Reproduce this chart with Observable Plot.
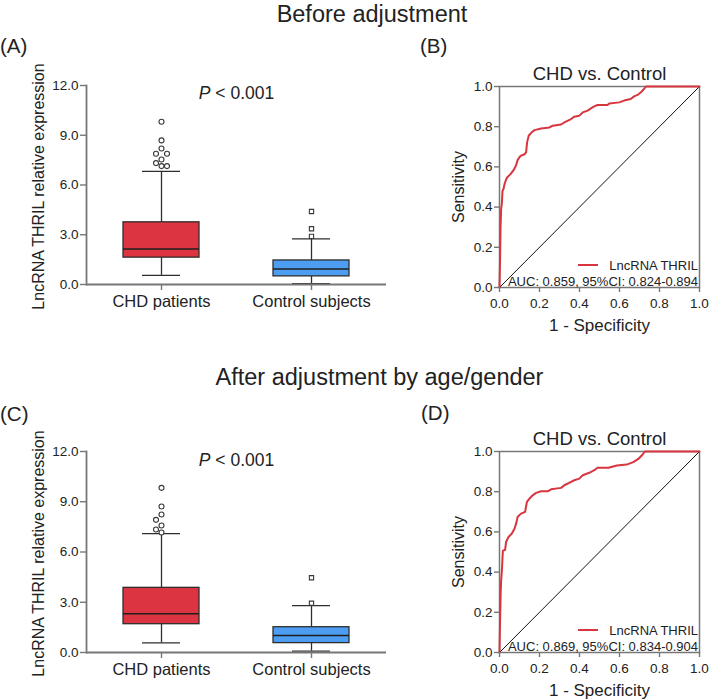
<!DOCTYPE html>
<html><head><meta charset="utf-8">
<script src="https://cdn.jsdelivr.net/npm/d3@7"></script>
<script src="https://cdn.jsdelivr.net/npm/@observablehq/plot@0.6"></script>
<style>
body{margin:0;background:#fff;}
#fig{position:relative;width:709px;height:700px;overflow:hidden;font-family:"Liberation Sans",Arial,Helvetica,sans-serif;}
#fig > svg{position:absolute;}
</style></head><body><div id="fig"></div>
<script>
const FONT = '"Liberation Sans", Arial, Helvetica, sans-serif';
const groups = ["CHD patients", "Control subjects"];
const boxColors = ["#dc3441", "#4d9df2"];
const boxTicks = [0, 3, 6, 9, 12];
// [lower whisker, Q1, median, Q3, upper whisker]
const beforeCHD = [0.55, 1.62, 2.14, 3.75, 6.82];
const beforeControl = [0.05, 0.49, 0.93, 1.45, 2.75];
const beforeOutCHD = [9.81, 8.69, 8.2, 7.88, 7.88, 7.54, 7.32, 7.14, 7.14];
const beforeOutControl = [4.4, 3.36, 2.9];
const afterCHD = [0.58, 1.69, 2.31, 3.86, 7.1];
const afterControl = [0.08, 0.56, 1.01, 1.51, 2.8];
const afterOutCHD = [9.83, 8.72, 8.24, 7.92, 7.58, 7.34, 7.16];
const afterOutControl = [4.46, 2.94];

const rocTicks = [0, 0.2, 0.4, 0.6, 0.8, 1];
const beforeFPR = [0,0.003,0.005,0.008,0.012,0.015,0.02,0.025,0.032,0.038,0.055,0.071,0.083,0.091,0.105,0.125,0.133,0.138,0.146,0.161,0.175,0.208,0.249,0.266,0.308,0.324,0.358,0.374,0.399,0.416,0.441,0.457,0.474,0.49,0.54,0.549,0.599,0.623,0.656,0.673,0.69,0.707,0.72,0.732,1];
const beforeTPR = [0,0.15,0.29,0.39,0.42,0.48,0.49,0.514,0.535,0.547,0.564,0.585,0.608,0.635,0.655,0.663,0.672,0.722,0.755,0.772,0.783,0.791,0.796,0.805,0.811,0.821,0.838,0.85,0.855,0.871,0.88,0.891,0.901,0.908,0.908,0.916,0.921,0.93,0.938,0.951,0.958,0.971,0.985,1,1];
const afterFPR = [0,0.003,0.006,0.008,0.012,0.015,0.017,0.028,0.033,0.045,0.061,0.075,0.083,0.091,0.108,0.128,0.137,0.15,0.166,0.183,0.208,0.241,0.258,0.308,0.324,0.358,0.374,0.399,0.416,0.449,0.474,0.49,0.545,0.587,0.636,0.669,0.694,0.711,0.727,1];
const afterTPR = [0,0.168,0.3,0.357,0.407,0.47,0.507,0.51,0.55,0.575,0.591,0.616,0.641,0.675,0.691,0.7,0.749,0.766,0.782,0.794,0.802,0.802,0.812,0.819,0.832,0.849,0.857,0.865,0.882,0.894,0.907,0.919,0.919,0.93,0.935,0.947,0.963,0.98,1,1];

const rocTitle = "CHD vs. Control";
const rocSeries = "LncRNA THRIL";
const beforeAUC = "AUC: 0.859, 95%CI: 0.824-0.894";
const afterAUC = "AUC: 0.869, 95%CI: 0.834-0.904";
const yLabelBox = "LncRNA THRIL relative expression";
const xLabelRoc = "1 - Specificity";
const yLabelRoc = "Sensitivity";

const fig = document.getElementById("fig");
function place(node, left, top) {
  node.style.position = "absolute"; node.style.left = left + "px"; node.style.top = top + "px";
  fig.appendChild(node);
}

function boxPanel(s5, outs, frameH) {
  const stats = groups.map((g, i) => ({group: g, lo: s5[i][0], q1: s5[i][1], med: s5[i][2], q3: s5[i][3], hi: s5[i][4], fill: boxColors[i]}));
  const minGap = 6.5 / (frameH / 12);
  const outliers = [];
  groups.forEach((g, gi) => {
    const placed = [];
    outs[gi].forEach(v => {
      const side = [0, -1, 1, -2, 2].find(s => placed.every(p => p.side !== s || Math.abs(p.value - v) >= minGap));
      placed.push({value: v, side});
      outliers.push({group: g, gi, value: v, side});
    });
  });
  const dots = [];
  groups.forEach((g, gi) => [-2, -1, 0, 1, 2].forEach(s => {
    dots.push(Plot.dot(outliers, {filter: d => d.gi === gi && d.side === s, x: "group", y: "value",
      symbol: gi === 0 ? "circle" : "square", r: gi === 0 ? 2.5 : 2.4, dx: s * 5.5,
      stroke: "#3a3a3a", strokeWidth: 1.1, fill: "white"}));
  }));
  const ln = {stroke: "#2e2e2e", strokeWidth: 1.3};
  return Plot.plot({
    width: 390, height: 30 + frameH + 36,
    marginLeft: 86, marginRight: 4, marginTop: 30, marginBottom: 36,
    style: {background: "transparent", fontFamily: FONT, overflow: "visible", color: "#222"},
    x: {domain: groups, padding: 0, label: null},
    y: {domain: [0, 12], label: null},
    color: {type: "identity"},
    marks: [
      Plot.ruleX(stats, {x: "group", y1: "q3", y2: "hi", ...ln}),
      Plot.ruleX(stats, {x: "group", y1: "lo", y2: "q1", ...ln}),
      Plot.tickY(stats, {x: "group", y: "hi", insetLeft: 56, insetRight: 56, ...ln}),
      Plot.tickY(stats, {x: "group", y: "lo", insetLeft: 56, insetRight: 56, ...ln}),
      Plot.barY(stats, {x: "group", y1: "q1", y2: "q3", fill: "fill", insetLeft: 37, insetRight: 37, ...ln}),
      Plot.tickY(stats, {x: "group", y: "med", insetLeft: 37, insetRight: 37, stroke: "#1e1e1e", strokeWidth: 1.5}),
      ...dots,
      Plot.ruleY([0], {stroke: "#777", strokeWidth: 1.8}),
      Plot.frame({anchor: "left", stroke: "#777", strokeWidth: 1.8}),
      Plot.axisY(boxTicks, {tickSize: 6, tickPadding: 2, tickFormat: d => d.toFixed(1), fontSize: 13.5, stroke: "#777", strokeWidth: 1.4, fill: "#222", label: null}),
      Plot.axisX({tickSize: 6, tickPadding: 5, fontSize: 16.5, stroke: "#777", strokeWidth: 1.4, fill: "#222", label: null}),
      Plot.text([yLabelBox], {frameAnchor: "left", textAnchor: "middle", rotate: -90, lineAnchor: "bottom", dx: -42.5, dy: 1.5, fontSize: 16, fill: "#222"})
    ]
  });
}

function rocPanel(fpr, tpr, auc, frameH, marginBottom) {
  const pts = fpr.map((x, i) => ({fpr: x, tpr: tpr[i]}));
  const unit = d3.extent(rocTicks);
  return Plot.plot({
    width: 269, height: 26 + frameH + marginBottom,
    marginLeft: 59, marginRight: 10, marginTop: 26, marginBottom,
    style: {background: "transparent", fontFamily: FONT, overflow: "visible", color: "#222"},
    x: {domain: unit, label: null},
    y: {domain: unit, label: null},
    marks: [
      Plot.frame({stroke: "#777", strokeWidth: 1.5}),
      Plot.line(unit, {x: d => d, y: d => d, stroke: "#111", strokeWidth: 1}),
      Plot.line(pts, {x: "fpr", y: "tpr", stroke: "#d8363f", strokeWidth: 2}),
      Plot.axisY(rocTicks, {tickSize: 5, tickPadding: 2, tickFormat: d => d.toFixed(1), fontSize: 13.5, stroke: "#777", strokeWidth: 1.4, fill: "#222", label: null}),
      Plot.axisX(rocTicks, {tickSize: 5, tickPadding: 6, tickFormat: d => d.toFixed(1), fontSize: 13.5, stroke: "#777", strokeWidth: 1.4, fill: "#222", label: null}),
      Plot.text([rocTitle], {frameAnchor: "top", lineAnchor: "bottom", dy: -6.5, fontSize: 18.5, fill: "#222"}),
      Plot.text([xLabelRoc], {frameAnchor: "bottom", lineAnchor: "bottom", dy: 43, fontSize: 17, fill: "#222"}),
      Plot.text([yLabelRoc], {frameAnchor: "left", textAnchor: "middle", rotate: -90, lineAnchor: "bottom", dx: -36, fontSize: 16, fill: "#222"}),
      Plot.text([rocSeries], {frameAnchor: "bottom-right", textAnchor: "end", lineAnchor: "bottom", dx: -1.5, dy: -17.5, fontSize: 13, fill: "#222"}),
      Plot.text([auc], {frameAnchor: "bottom-right", textAnchor: "end", lineAnchor: "bottom", dx: -1.5, dy: -1.5, fontSize: 13, fill: "#222"})
    ]
  });
}

place(boxPanel([beforeCHD, beforeControl], [beforeOutCHD, beforeOutControl], 199), 0, 55);
place(rocPanel(beforeFPR, beforeTPR, beforeAUC, 201, 53), 440, 60);
place(boxPanel([afterCHD, afterControl], [afterOutCHD, afterOutControl], 201), 0, 421);
place(rocPanel(afterFPR, afterTPR, afterAUC, 201, 48), 440, 425);

// annotation overlay: headings, panel letters, P values, legend swatches
const ov = d3.select(fig).append("svg").attr("width", 709).attr("height", 700)
  .style("left", "0px").style("top", "0px").style("pointer-events", "none")
  .attr("font-family", FONT).attr("fill", "#222");
const headings = [["Before adjustment", 372, 21.5], ["After adjustment by age/gender", 379.5, 385]];
headings.forEach(([t, x, y]) => ov.append("text").attr("x", x).attr("y", y).attr("text-anchor", "middle").attr("font-size", 23.5).text(t));
const letters = [["(A)", 0, 53], ["(B)", 420, 53], ["(C)", 0, 420.5], ["(D)", 421, 420]];
letters.forEach(([t, x, y]) => ov.append("text").attr("x", x).attr("y", y).attr("font-size", 20.5).text(t));
[99.3, 466].forEach(y => {
  const t = ov.append("text").attr("x", 236.5).attr("y", y).attr("text-anchor", "middle").attr("font-size", 17.5);
  t.append("tspan").attr("font-style", "italic").text("P");
  t.append("tspan").text(" < 0.001");
});
[287, 652].forEach(b => ov.append("line").attr("x1", 578).attr("x2", 598).attr("y1", b - 22).attr("y2", b - 22)
  .attr("stroke", "#d8363f").attr("stroke-width", 2));
</script></body></html>
